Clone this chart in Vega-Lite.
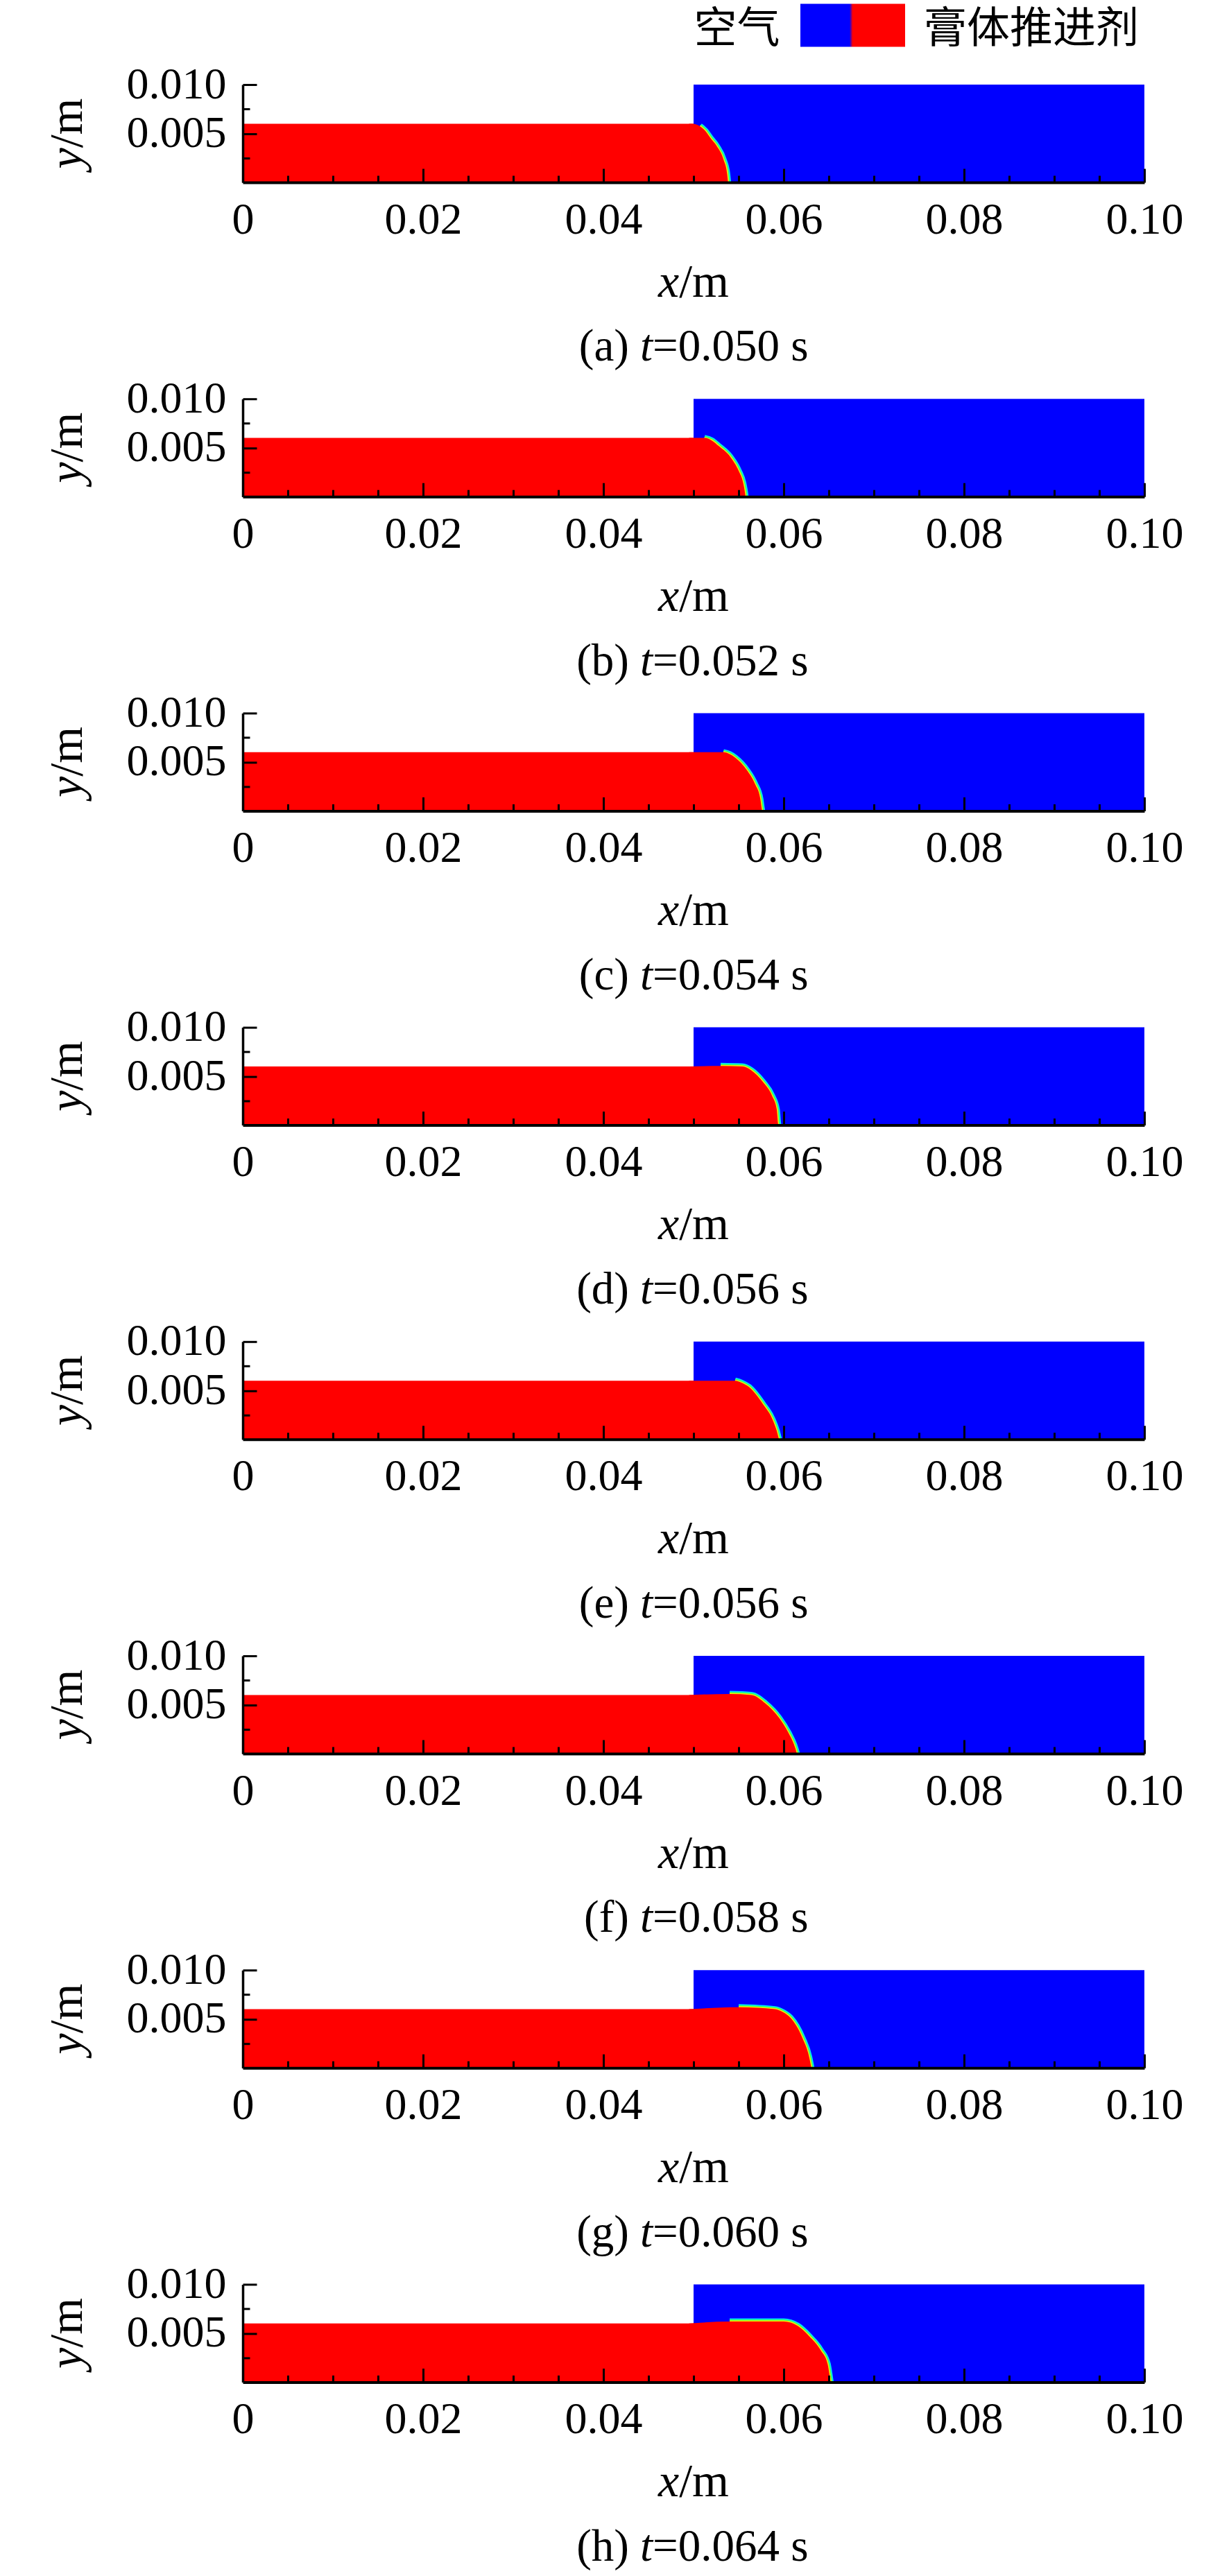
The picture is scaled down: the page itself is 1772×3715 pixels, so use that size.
{
  "$schema": "https://vega.github.io/schema/vega-lite/v6.json",
  "background": "white",
  "padding": {"left": 64, "top": 5, "right": 10, "bottom": 10},
  "config": {"view": {"stroke": null}, "font": "Liberation Serif"},
  "data": {
    "values": [
      {"kind": "legend", "panel": "a", "air": "空气", "paste": "膏体推进剂"},

      {"kind": "caption", "panel": "a", "tag": "(a)", "rest": "=0.050 s"},
      {"kind": "caption", "panel": "b", "tag": "(b)", "rest": "=0.052 s"},
      {"kind": "caption", "panel": "c", "tag": "(c)", "rest": "=0.054 s"},
      {"kind": "caption", "panel": "d", "tag": "(d)", "rest": "=0.056 s"},
      {"kind": "caption", "panel": "e", "tag": "(e)", "rest": "=0.056 s"},
      {"kind": "caption", "panel": "f", "tag": "(f)", "rest": "=0.058 s"},
      {"kind": "caption", "panel": "g", "tag": "(g)", "rest": "=0.060 s"},
      {"kind": "caption", "panel": "h", "tag": "(h)", "rest": "=0.064 s"},

      {"kind": "region", "panel": "a", "phase": "air", "x": 0.05, "x2": 0.1, "y": 0, "y2": 0.01},
      {"kind": "region", "panel": "a", "phase": "propellant", "x": 0, "x2": 0.05, "y": 0, "y2": 0.006},
      {"kind": "region", "panel": "b", "phase": "air", "x": 0.05, "x2": 0.1, "y": 0, "y2": 0.01},
      {"kind": "region", "panel": "b", "phase": "propellant", "x": 0, "x2": 0.05, "y": 0, "y2": 0.006},
      {"kind": "region", "panel": "c", "phase": "air", "x": 0.05, "x2": 0.1, "y": 0, "y2": 0.01},
      {"kind": "region", "panel": "c", "phase": "propellant", "x": 0, "x2": 0.05, "y": 0, "y2": 0.006},
      {"kind": "region", "panel": "d", "phase": "air", "x": 0.05, "x2": 0.1, "y": 0, "y2": 0.01},
      {"kind": "region", "panel": "d", "phase": "propellant", "x": 0, "x2": 0.05, "y": 0, "y2": 0.006},
      {"kind": "region", "panel": "e", "phase": "air", "x": 0.05, "x2": 0.1, "y": 0, "y2": 0.01},
      {"kind": "region", "panel": "e", "phase": "propellant", "x": 0, "x2": 0.05, "y": 0, "y2": 0.006},
      {"kind": "region", "panel": "f", "phase": "air", "x": 0.05, "x2": 0.1, "y": 0, "y2": 0.01},
      {"kind": "region", "panel": "f", "phase": "propellant", "x": 0, "x2": 0.05, "y": 0, "y2": 0.006},
      {"kind": "region", "panel": "g", "phase": "air", "x": 0.05, "x2": 0.1, "y": 0, "y2": 0.01},
      {"kind": "region", "panel": "g", "phase": "propellant", "x": 0, "x2": 0.05, "y": 0, "y2": 0.006},
      {"kind": "region", "panel": "h", "phase": "air", "x": 0.05, "x2": 0.1, "y": 0, "y2": 0.01},
      {"kind": "region", "panel": "h", "phase": "propellant", "x": 0, "x2": 0.05, "y": 0, "y2": 0.006},

      {"kind": "front", "panel": "a", "x": 0.0495, "y": 0.006},
      {"kind": "front", "panel": "a", "x": 0.0499, "y": 0.006},
      {"kind": "front", "panel": "a", "x": 0.0507, "y": 0.00575},
      {"kind": "front", "panel": "a", "x": 0.0513, "y": 0.00526},
      {"kind": "front", "panel": "a", "x": 0.0519, "y": 0.0045},
      {"kind": "front", "panel": "a", "x": 0.05256, "y": 0.00372},
      {"kind": "front", "panel": "a", "x": 0.05333, "y": 0.0023},
      {"kind": "front", "panel": "a", "x": 0.05372, "y": 0.00089},
      {"kind": "front", "panel": "a", "x": 0.05382, "y": 0},

      {"kind": "front", "panel": "b", "x": 0.0495, "y": 0.006},
      {"kind": "front", "panel": "b", "x": 0.0512, "y": 0.006},
      {"kind": "front", "panel": "b", "x": 0.052, "y": 0.00575},
      {"kind": "front", "panel": "b", "x": 0.05282, "y": 0.00515},
      {"kind": "front", "panel": "b", "x": 0.0541, "y": 0.00403},
      {"kind": "front", "panel": "b", "x": 0.055, "y": 0.00264},
      {"kind": "front", "panel": "b", "x": 0.05551, "y": 0.00136},
      {"kind": "front", "panel": "b", "x": 0.05572, "y": 0.0003},
      {"kind": "front", "panel": "b", "x": 0.05576, "y": 0},

      {"kind": "front", "panel": "c", "x": 0.0495, "y": 0.006},
      {"kind": "front", "panel": "c", "x": 0.0533, "y": 0.006},
      {"kind": "front", "panel": "c", "x": 0.054, "y": 0.0058},
      {"kind": "front", "panel": "c", "x": 0.05462, "y": 0.00543},
      {"kind": "front", "panel": "c", "x": 0.0559, "y": 0.00417},
      {"kind": "front", "panel": "c", "x": 0.0568, "y": 0.00277},
      {"kind": "front", "panel": "c", "x": 0.0574, "y": 0.00123},
      {"kind": "front", "panel": "c", "x": 0.05756, "y": 0.0002},
      {"kind": "front", "panel": "c", "x": 0.0576, "y": 0},

      {"kind": "front", "panel": "d", "x": 0.0495, "y": 0.006},
      {"kind": "front", "panel": "d", "x": 0.053, "y": 0.00605},
      {"kind": "front", "panel": "d", "x": 0.0554, "y": 0.006},
      {"kind": "front", "panel": "d", "x": 0.05641, "y": 0.0056},
      {"kind": "front", "panel": "d", "x": 0.05769, "y": 0.00442},
      {"kind": "front", "panel": "d", "x": 0.0587, "y": 0.003},
      {"kind": "front", "panel": "d", "x": 0.05923, "y": 0.00158},
      {"kind": "front", "panel": "d", "x": 0.05936, "y": 0.0002},
      {"kind": "front", "panel": "d", "x": 0.0594, "y": 0},

      {"kind": "front", "panel": "e", "x": 0.0495, "y": 0.006},
      {"kind": "front", "panel": "e", "x": 0.0546, "y": 0.006},
      {"kind": "front", "panel": "e", "x": 0.0553, "y": 0.0058},
      {"kind": "front", "panel": "e", "x": 0.05615, "y": 0.00535},
      {"kind": "front", "panel": "e", "x": 0.05769, "y": 0.0036},
      {"kind": "front", "panel": "e", "x": 0.05872, "y": 0.0021},
      {"kind": "front", "panel": "e", "x": 0.05923, "y": 0.00085},
      {"kind": "front", "panel": "e", "x": 0.05945, "y": 0.0001},
      {"kind": "front", "panel": "e", "x": 0.0595, "y": 0},

      {"kind": "front", "panel": "f", "x": 0.0495, "y": 0.006},
      {"kind": "front", "panel": "f", "x": 0.054, "y": 0.0061},
      {"kind": "front", "panel": "f", "x": 0.0564, "y": 0.006},
      {"kind": "front", "panel": "f", "x": 0.05795, "y": 0.00515},
      {"kind": "front", "panel": "f", "x": 0.05949, "y": 0.00365},
      {"kind": "front", "panel": "f", "x": 0.06051, "y": 0.00215},
      {"kind": "front", "panel": "f", "x": 0.06115, "y": 0.0009},
      {"kind": "front", "panel": "f", "x": 0.06141, "y": 0.00015},
      {"kind": "front", "panel": "f", "x": 0.06145, "y": 0},

      {"kind": "front", "panel": "g", "x": 0.0495, "y": 0.006},
      {"kind": "front", "panel": "g", "x": 0.055, "y": 0.0062},
      {"kind": "front", "panel": "g", "x": 0.059, "y": 0.006},
      {"kind": "front", "panel": "g", "x": 0.0599, "y": 0.0057},
      {"kind": "front", "panel": "g", "x": 0.06077, "y": 0.0051},
      {"kind": "front", "panel": "g", "x": 0.06205, "y": 0.0031},
      {"kind": "front", "panel": "g", "x": 0.06282, "y": 0.0011},
      {"kind": "front", "panel": "g", "x": 0.06302, "y": 0.0002},
      {"kind": "front", "panel": "g", "x": 0.06306, "y": 0},

      {"kind": "front", "panel": "h", "x": 0.0495, "y": 0.006},
      {"kind": "front", "panel": "h", "x": 0.054, "y": 0.0062},
      {"kind": "front", "panel": "h", "x": 0.06, "y": 0.0062},
      {"kind": "front", "panel": "h", "x": 0.06154, "y": 0.00576},
      {"kind": "front", "panel": "h", "x": 0.06282, "y": 0.0047},
      {"kind": "front", "panel": "h", "x": 0.0641, "y": 0.00326},
      {"kind": "front", "panel": "h", "x": 0.06487, "y": 0.00184},
      {"kind": "front", "panel": "h", "x": 0.06513, "y": 0.0004},
      {"kind": "front", "panel": "h", "x": 0.0652, "y": 0}
    ]
  },
  "facet": {
    "row": {"field": "panel", "type": "nominal", "header": {"labels": false, "title": null}}
  },
  "spacing": {"row": 312.2},
  "bounds": "flush",
  "resolve": {"axis": {"x": "independent", "y": "independent"}},
  "spec": {
    "width": 1300,
    "height": 141,
    "resolve": {"axis": {"x": "independent", "y": "independent"}},
    "layer": [
      {
        "transform": [{"filter": "datum.kind == 'region'"}],
        "mark": {"type": "rect"},
        "encoding": {
          "x": {
            "field": "x", "type": "quantitative",
            "scale": {"domain": [0, 0.1], "nice": false, "zero": false},
            "axis": {
              "orient": "bottom",
              "values": [0.005, 0.01, 0.015, 0.025, 0.03, 0.035, 0.045, 0.05, 0.055, 0.065, 0.07, 0.075, 0.085, 0.09, 0.095],
              "labels": false, "tickSize": -10, "tickWidth": 3, "tickColor": "black",
              "domain": true, "domainWidth": 4, "domainColor": "black",
              "grid": false, "title": null, "zindex": 1
            }
          },
          "x2": {"field": "x2"},
          "y": {
            "field": "y", "type": "quantitative",
            "scale": {"domain": [0, 0.01], "nice": false},
            "axis": {
              "orient": "left",
              "values": [0.0025, 0.0075],
              "labels": false, "tickSize": -10, "tickWidth": 3, "tickColor": "black",
              "domain": true, "domainWidth": 3.5, "domainColor": "black",
              "grid": false, "title": null, "zindex": 1
            }
          },
          "y2": {"field": "y2"},
          "color": {
            "field": "phase", "type": "nominal",
            "scale": {"domain": ["air", "propellant"], "range": ["#0000ff", "#ff0000"]},
            "legend": null
          }
        }
      },
      {
        "transform": [{"filter": "datum.kind == 'front' && datum.x >= 0.05"}],
        "mark": {"type": "line", "color": "#00e0ff", "strokeWidth": 9, "interpolate": "monotone"},
        "encoding": {
          "x": {
            "field": "x", "type": "quantitative",
            "axis": {
              "orient": "bottom",
              "values": [0, 0.02, 0.04, 0.06, 0.08, 0.1],
              "labelExpr": "datum.value == 0 ? '0' : format(datum.value, '.2f')",
              "tickSize": -20, "tickWidth": 3, "tickColor": "black", "domain": false,
              "labelFont": "Liberation Serif", "labelFontSize": 64, "labelColor": "black",
              "labelPadding": 42, "labelFlush": false, "labelOverlap": false,
              "grid": false, "title": null, "zindex": 1
            }
          },
          "y": {
            "field": "y", "type": "quantitative",
            "axis": {
              "orient": "left",
              "values": [0.005, 0.01], "format": ".3f",
              "tickSize": -20, "tickWidth": 3, "tickColor": "black", "domain": false,
              "labelFont": "Liberation Serif", "labelFontSize": 64, "labelColor": "black",
              "labelPadding": 44, "labelFlush": false, "labelOverlap": false,
              "grid": false, "title": null, "zindex": 1
            }
          }
        }
      },
      {
        "transform": [{"filter": "datum.kind == 'front' && datum.x >= 0.05"}],
        "mark": {"type": "line", "color": "#33ff66", "strokeWidth": 6, "interpolate": "monotone"},
        "encoding": {
          "x": {"field": "x", "type": "quantitative", "axis": null},
          "y": {"field": "y", "type": "quantitative", "axis": null}
        }
      },
      {
        "transform": [{"filter": "datum.kind == 'front' && datum.x >= 0.05"}],
        "mark": {"type": "line", "color": "#ffe600", "strokeWidth": 3, "interpolate": "monotone"},
        "encoding": {
          "x": {"field": "x", "type": "quantitative", "axis": null},
          "y": {"field": "y", "type": "quantitative", "axis": null}
        }
      },
      {
        "transform": [{"filter": "datum.kind == 'front'"}],
        "mark": {"type": "area", "color": "#ff0000", "interpolate": "monotone"},
        "encoding": {
          "x": {"field": "x", "type": "quantitative", "axis": null},
          "y": {"field": "y", "type": "quantitative", "axis": null}
        }
      },
      {
        "transform": [{"filter": "datum.kind == 'caption'"}],
        "mark": {"type": "text", "align": "right", "baseline": "alphabetic", "font": "Liberation Serif", "fontSize": 65, "color": "black", "dx": -93},
        "encoding": {
          "x": {"datum": 0.05, "type": "quantitative", "axis": null},
          "y": {"datum": -0.018262, "type": "quantitative", "axis": null},
          "text": {"field": "tag"}
        }
      },
      {
        "transform": [{"filter": "datum.kind == 'caption'"}],
        "mark": {"type": "text", "align": "left", "baseline": "alphabetic", "font": "Liberation Serif", "fontSize": 65, "fontStyle": "italic", "color": "black", "dx": -77},
        "encoding": {
          "x": {"datum": 0.05, "type": "quantitative", "axis": null},
          "y": {"datum": -0.018262, "type": "quantitative", "axis": null},
          "text": {"value": "t"}
        }
      },
      {
        "transform": [{"filter": "datum.kind == 'caption'"}],
        "mark": {"type": "text", "align": "left", "baseline": "alphabetic", "font": "Liberation Serif", "fontSize": 65, "color": "black", "dx": -59},
        "encoding": {
          "x": {"datum": 0.05, "type": "quantitative", "axis": null},
          "y": {"datum": -0.018262, "type": "quantitative", "axis": null},
          "text": {"field": "rest"}
        }
      },
      {
        "transform": [{"filter": "datum.kind == 'caption'"}],
        "mark": {"type": "text", "align": "right", "baseline": "alphabetic", "font": "Liberation Serif", "fontSize": 68, "fontStyle": "italic", "color": "black", "dx": -20.8},
        "encoding": {
          "x": {"datum": 0.05, "type": "quantitative", "axis": null},
          "y": {"datum": -0.011667, "type": "quantitative", "axis": null},
          "text": {"value": "x"}
        }
      },
      {
        "transform": [{"filter": "datum.kind == 'caption'"}],
        "mark": {"type": "text", "align": "left", "baseline": "alphabetic", "font": "Liberation Serif", "fontSize": 68, "color": "black", "dx": -20.8},
        "encoding": {
          "x": {"datum": 0.05, "type": "quantitative", "axis": null},
          "y": {"datum": -0.011667, "type": "quantitative", "axis": null},
          "text": {"value": "/m"}
        }
      },
      {
        "transform": [{"filter": "datum.kind == 'caption'"}],
        "mark": {"type": "text", "align": "right", "baseline": "alphabetic", "angle": 270, "font": "Liberation Serif", "fontSize": 68, "fontStyle": "italic", "color": "black", "dx": -20.8},
        "encoding": {
          "x": {"datum": -0.017846, "type": "quantitative", "axis": null},
          "y": {"datum": 0.005, "type": "quantitative", "axis": null},
          "text": {"value": "y"}
        }
      },
      {
        "transform": [{"filter": "datum.kind == 'caption'"}],
        "mark": {"type": "text", "align": "left", "baseline": "alphabetic", "angle": 270, "font": "Liberation Serif", "fontSize": 68, "color": "black", "dx": -20.8},
        "encoding": {
          "x": {"datum": -0.017846, "type": "quantitative", "axis": null},
          "y": {"datum": 0.005, "type": "quantitative", "axis": null},
          "text": {"value": "/m"}
        }
      },
      {
        "transform": [{"filter": "datum.kind == 'legend'"}],
        "mark": {
          "type": "rect",
          "color": {
            "gradient": "linear", "x1": 0, "y1": 0, "x2": 1, "y2": 0,
            "stops": [
              {"offset": 0, "color": "#0000ff"},
              {"offset": 0.47, "color": "#0000ff"},
              {"offset": 0.5, "color": "#ff0000"},
              {"offset": 1, "color": "#ff0000"}
            ]
          }
        },
        "encoding": {
          "x": {"datum": 0.061846, "type": "quantitative", "axis": null},
          "x2": {"datum": 0.073462},
          "y": {"datum": 0.013865, "type": "quantitative", "axis": null},
          "y2": {"datum": 0.018262}
        }
      },
      {
        "transform": [{"filter": "datum.kind == 'legend'"}],
        "mark": {"type": "text", "align": "right", "baseline": "middle", "font": "Noto Sans CJK SC", "fontSize": 62, "color": "black"},
        "encoding": {
          "x": {"datum": 0.059577, "type": "quantitative", "axis": null},
          "y": {"datum": 0.015638, "type": "quantitative", "axis": null},
          "text": {"field": "air"}
        }
      },
      {
        "transform": [{"filter": "datum.kind == 'legend'"}],
        "mark": {"type": "text", "align": "left", "baseline": "middle", "font": "Noto Sans CJK SC", "fontSize": 62, "color": "black"},
        "encoding": {
          "x": {"datum": 0.075538, "type": "quantitative", "axis": null},
          "y": {"datum": 0.015638, "type": "quantitative", "axis": null},
          "text": {"field": "paste"}
        }
      }
    ]
  }
}
